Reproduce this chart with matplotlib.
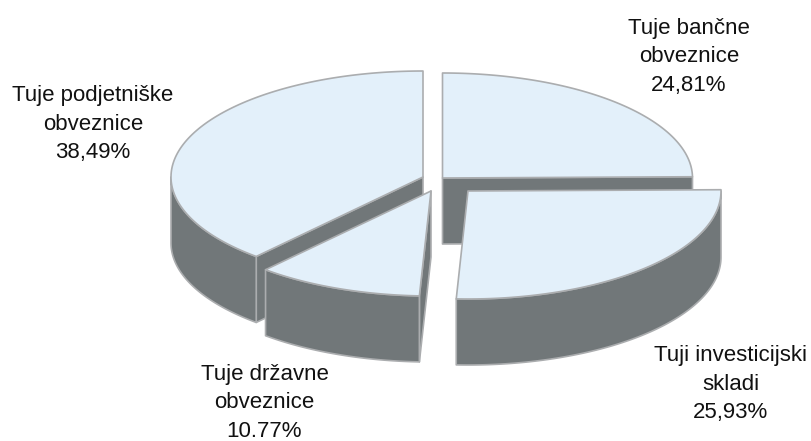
# 3D tortni graf - tuje obveznice in skladi
import numpy as np
import matplotlib
matplotlib.use('Agg')
import matplotlib.pyplot as plt
from matplotlib.patches import Polygon

plt.rcParams['font.family'] = ['Liberation Sans', 'DejaVu Sans']

# podatki, v smeri urinega kazalca od vrha
names = ['Tuje bančne\nobveznice', 'Tuji investicijski\nskladi',
         'Tuje državne\nobveznice', 'Tuje podjetniške\nobveznice']
values = [24.81, 25.93, 10.77, 38.49]
value_labels = ['24,81%', '25,93%', '10.77%', '38,49%']

# postavitev v pikslih
centers = [(442.5, 178), (468, 191), (431, 191), (423, 177)]
radii = [(250, 105), (253, 108), (250, 105), (252, 106)]
label_pos = [(689, 57), (731, 384), (264.5, 403), (93, 124)]
depth = 66
top_color = '#E3F0FA'
wall_color = '#717779'
edge_color = '#ABADAF'

fig = plt.figure(figsize=(8.12, 4.41), dpi=100)
ax = fig.add_axes([0, 0, 1, 1])
ax.set_xlim(0, 812)
ax.set_ylim(441, 0)
ax.axis('off')

# kot zacetka in konca za vsak izsek
ends = 90 - np.cumsum(values) * 3.6
starts = np.r_[90, ends[:-1]]


def arc(i, a, b):
    t = np.radians(np.linspace(a, b, 120))
    cx, cy = centers[i]
    rx, ry = radii[i]
    return np.c_[cx + rx * np.cos(t), cy - ry * np.sin(t)]


def poly(pts, color, z):
    ax.add_patch(Polygon(pts, closed=True, fc=color, ec=edge_color, lw=1.2,
                         joinstyle='round', zorder=z))


def wall(i, a, b, z):
    # sprednja stena med kotoma a in b (a > b)
    lo, hi = max(b, -180), min(a, 0)
    if lo >= hi:
        return
    p = arc(i, hi, lo)
    poly(np.r_[p, (p + [0, depth])[::-1]], wall_color, z)


def cut(i, angle, z):
    # rez od sredine do roba
    c = np.array(centers[i], float)
    e = arc(i, angle, angle)[0]
    poly([c, e, e + [0, depth], c + [0, depth]], wall_color, z)


# risanje od zadaj naprej: banke, podjetja, drzavne, skladi
for z, i in enumerate([0, 3, 2, 1]):
    z = z * 3 + 1
    if i == 0:
        cut(i, ends[i], z)
    if i == 2:
        cut(i, starts[i], z)
    if i == 3:
        cut(i, starts[i], z)
        wall(i, starts[i] + 360, ends[i] + 360, z)
        wall(i, starts[i], ends[i], z)
    else:
        wall(i, starts[i], ends[i], z)
    p = arc(i, starts[i], ends[i])
    poly(np.r_[[centers[i]], p], top_color, z + 1)

for i, (x, y) in enumerate(label_pos):
    ax.text(x, y, names[i] + '\n' + value_labels[i], ha='center', va='center',
            fontsize=16, linespacing=1.47, color='#111111', zorder=20)

fig.savefig('out.png', dpi=100)
